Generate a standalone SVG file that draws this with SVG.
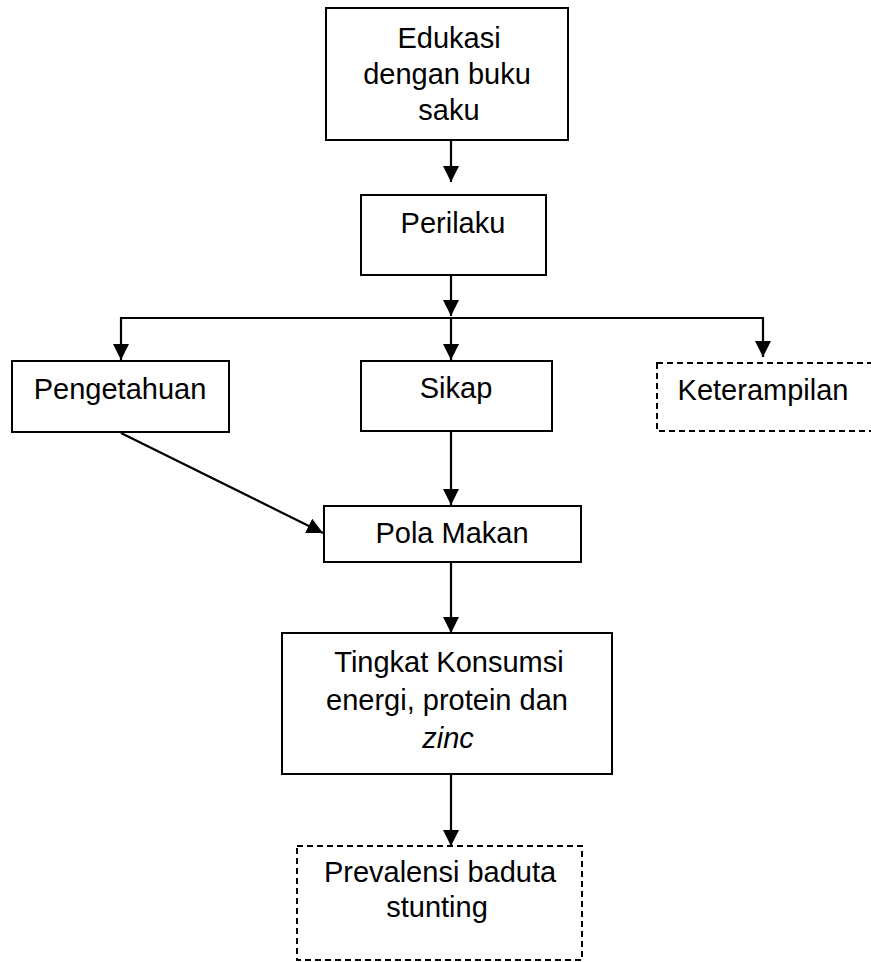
<svg xmlns="http://www.w3.org/2000/svg" width="871" height="962" viewBox="0 0 871 962">
<defs>
<style>
.box{fill:#fff;stroke:#000;stroke-width:2}
.dash{fill:#fff;stroke:#000;stroke-width:2;stroke-dasharray:6 4}
.t{font-family:"Liberation Sans",Arial,sans-serif;font-size:29px;fill:#000;text-anchor:middle}
.c{fill:none;stroke:#000;stroke-width:2.2}
</style>
<marker id="ah" viewBox="0 0 16 16" refX="16" refY="8" markerWidth="16" markerHeight="16" markerUnits="userSpaceOnUse" orient="auto">
<path d="M0,0 L16,8 L0,16 Z" fill="#000"/>
</marker>
</defs>
<rect width="871" height="962" fill="#fff"/>
<g id="connectors">
<line class="c" x1="451" y1="140" x2="451" y2="182" marker-end="url(#ah)"/>
<line class="c" x1="451" y1="275" x2="451" y2="316" marker-end="url(#ah)"/>
<polyline class="c" points="451,318 121,318 121,360" marker-end="url(#ah)"/>
<polyline class="c" points="451,318 763,318 763,357" marker-end="url(#ah)"/>
<line class="c" x1="451" y1="318" x2="451" y2="360" marker-end="url(#ah)"/>
<line class="c" x1="451" y1="431" x2="451" y2="505" marker-end="url(#ah)"/>
<line class="c" x1="121" y1="433" x2="323" y2="533" marker-end="url(#ah)"/>
<line class="c" x1="451" y1="562" x2="451" y2="633" marker-end="url(#ah)"/>
<line class="c" x1="451" y1="774" x2="451" y2="846" marker-end="url(#ah)"/>
</g>
<g id="edukasi">
<rect class="box" x="326" y="8" width="242" height="132"/>
<text class="t" x="449" y="48">Edukasi</text>
<text class="t" x="447" y="84">dengan buku</text>
<text class="t" x="449" y="120">saku</text>
</g>
<g id="perilaku">
<rect class="box" x="361" y="195" width="185" height="80"/>
<text class="t" x="453" y="233">Perilaku</text>
</g>
<g id="pengetahuan">
<rect class="box" x="12" y="361" width="217" height="71"/>
<text class="t" x="120" y="399">Pengetahuan</text>
</g>
<g id="sikap">
<rect class="box" x="361" y="361" width="191" height="70"/>
<text class="t" x="456" y="398">Sikap</text>
</g>
<g id="keterampilan">
<rect class="dash" x="657" y="363" width="220" height="68"/>
<text class="t" x="763" y="400">Keterampilan</text>
</g>
<g id="pola-makan">
<rect class="box" x="324" y="506" width="257" height="56"/>
<text class="t" x="452" y="543">Pola Makan</text>
</g>
<g id="tingkat-konsumsi">
<rect class="box" x="282" y="633" width="330" height="141"/>
<text class="t" x="449" y="672">Tingkat Konsumsi</text>
<text class="t" x="447" y="710">energi, protein dan</text>
<text class="t" x="448" y="748" font-style="italic">zinc</text>
</g>
<g id="prevalensi">
<rect class="dash" x="297" y="846" width="285" height="114"/>
<text class="t" x="440" y="882">Prevalensi baduta</text>
<text class="t" x="437" y="917">stunting</text>
</g>
</svg>
